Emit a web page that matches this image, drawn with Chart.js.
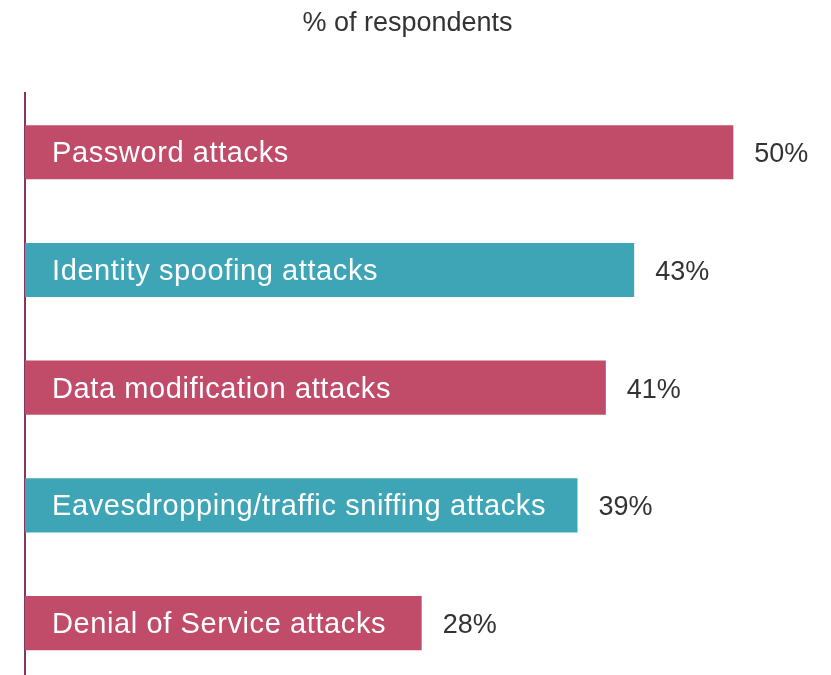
<!DOCTYPE html>
<html>
<head>
<meta charset="utf-8">
<style>
  html, body { margin: 0; padding: 0; background: #ffffff; overflow: hidden; }
  #wrap { width: 831px; height: 682px; position: relative; }
</style>
<script src="https://cdn.jsdelivr.net/npm/chart.js@4/dist/chart.umd.min.js"></script>
</head>
<body>
<div id="wrap"><canvas id="c" width="831" height="682"></canvas></div>
<script>
const categories = [
  "Password attacks",
  "Identity spoofing attacks",
  "Data modification attacks",
  "Eavesdropping/traffic sniffing attacks",
  "Denial of Service attacks"
];
const values = [50, 43, 41, 39, 28];
const valueLabels = ["50%", "43%", "41%", "39%", "28%"];
const barColors = ["#c04c6a", "#3ea5b6", "#c04c6a", "#3ea5b6", "#c04c6a"];
const titleText = "% of respondents";

const labelPlugin = {
  id: 'barLabels',
  afterDatasetsDraw(chart) {
    const ctx = chart.ctx;
    const meta = chart.getDatasetMeta(0);
    const area = chart.chartArea;
    ctx.save();
    meta.data.forEach((bar, i) => {
      // category label inside bar
      ctx.font = '29px "Liberation Sans", Arial, sans-serif';
      ctx.fillStyle = '#ffffff';
      ctx.textAlign = 'left';
      ctx.textBaseline = 'alphabetic';
      if ('letterSpacing' in ctx) ctx.letterSpacing = '0.6px';
      ctx.fillText(categories[i], area.left + 27, bar.y + 10);
      if ('letterSpacing' in ctx) ctx.letterSpacing = '0px';
      // value label
      ctx.font = '27px "Liberation Sans", Arial, sans-serif';
      ctx.fillStyle = '#333333';
      ctx.fillText(valueLabels[i], bar.x + 21, bar.y + 10);
    });
    ctx.restore();
  }
};

new Chart(document.getElementById('c'), {
  type: 'bar',
  data: {
    labels: categories,
    datasets: [{
      data: values,
      backgroundColor: barColors,
      borderWidth: 0,
      barPercentage: 0.92,
      categoryPercentage: 0.5
    }]
  },
  options: {
    indexAxis: 'y',
    responsive: false,
    animation: false,
    layout: { padding: { left: 25, right: 41, top: 0, bottom: 0 } },
    plugins: {
      legend: { display: false },
      tooltip: { enabled: false },
      title: {
        display: true,
        text: titleText,
        fullSize: false,
        color: '#333333',
        font: { family: '"Liberation Sans", Arial, sans-serif', size: 27, weight: 'normal' },
        padding: { top: 7, bottom: 54 }
      }
    },
    scales: {
      x: {
        display: false,
        min: 0,
        max: 54
      },
      y: {
        display: true,
        grid: { display: false, drawTicks: false },
        ticks: { display: false },
        border: { display: true, color: '#85365f', width: 2 }
      }
    }
  },
  plugins: [labelPlugin]
});
</script>
</body>
</html>
